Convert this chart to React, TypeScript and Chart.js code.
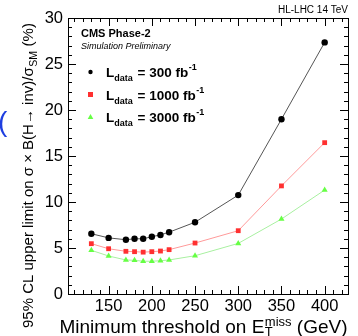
import React, { useEffect, useRef } from "react";
import { Chart, registerables } from "chart.js";

Chart.register(...registerables);

const thresholds = [130, 150, 170, 180, 190, 200, 210, 220, 250, 300, 350, 400];
const limit300 = [6.55, 6.1, 5.9, 6.0, 6.0, 6.23, 6.42, 6.72, 7.8, 10.75, 19.0, 27.35];
const limit1000 = [5.47, 4.92, 4.64, 4.6, 4.55, 4.6, 4.67, 4.82, 5.54, 6.88, 11.75, 16.45];
const limit3000 = [4.75, 4.13, 3.7, 3.66, 3.56, 3.56, 3.62, 3.7, 4.16, 5.5, 8.15, 11.3];
const xTickLabels = [150, 200, 250, 300, 350, 400];
const yTickLabels = [0, 5, 10, 15, 20, 25, 30];
const legendLumis = ["300", "1000", "3000"];

const FONT = "'Liberation Sans', Arial, Helvetica, sans-serif";

const toPts = (ys: number[]) => ys.map((y, i) => ({ x: thresholds[i], y }));

const decorPlugin = {
  id: "decor",
  afterDraw(chart: any) {
    const ctx: CanvasRenderingContext2D = chart.ctx;
    const { left, right, top, bottom } = chart.chartArea;
    const xs = chart.scales.x;
    const ys = chart.scales.y;
    ctx.save();
    // frame
    ctx.strokeStyle = "#000";
    ctx.lineWidth = 1;
    ctx.strokeRect(Math.round(left) + 0.5, Math.round(top) + 0.5, Math.round(right - left), Math.round(bottom - top));
    // ticks
    ctx.beginPath();
    for (let v = 110; v <= 420; v += 10) {
      const px = Math.round(xs.getPixelForValue(v)) + 0.5;
      const len = v % 50 === 0 ? 8 : 4;
      ctx.moveTo(px, bottom);
      ctx.lineTo(px, bottom - len);
      ctx.moveTo(px, top);
      ctx.lineTo(px, top + len);
    }
    for (let v = 1; v < 30; v += 1) {
      const py = Math.round(ys.getPixelForValue(v)) + 0.5;
      const len = v % 5 === 0 ? 8 : 4;
      ctx.moveTo(left, py);
      ctx.lineTo(left + len, py);
      ctx.moveTo(right, py);
      ctx.lineTo(right - len, py);
    }
    ctx.stroke();

    ctx.fillStyle = "#000";
    ctx.textBaseline = "alphabetic";
    // X title
    {
      const big = `19px ${FONT}`;
      const small = `13px ${FONT}`;
      const p1 = "Minimum threshold on E";
      const p3 = " (GeV)";
      ctx.font = big;
      const w1 = ctx.measureText(p1).width;
      const w3 = ctx.measureText(p3).width;
      ctx.font = small;
      const w2 = ctx.measureText("miss").width;
      const total = w1 + w2 + w3;
      const x0 = 347 - total;
      const base = 333;
      ctx.font = big;
      ctx.textAlign = "left";
      ctx.fillText(p1, x0, base);
      ctx.font = small;
      ctx.fillText("miss", x0 + w1 + 0.5, base - 7);
      ctx.fillText("T", x0 + w1 + 0.5, base + 3);
      ctx.font = big;
      ctx.fillText(p3, x0 + w1 + w2 + 0.5, base);
    }
    // Y title (rotated)
    {
      const big = `15px ${FONT}`;
      const small = `10.5px ${FONT}`;
      const p1 = "95% CL upper limit on σ × B(H→ inv)/σ";
      const p2 = "SM";
      const p3 = " (%)";
      ctx.save();
      ctx.translate(33, 328);
      ctx.rotate(-Math.PI / 2);
      ctx.textAlign = "left";
      ctx.font = big;
      const w1 = ctx.measureText(p1).width;
      ctx.fillText(p1, 0, 0);
      ctx.font = small;
      const w2 = ctx.measureText(p2).width;
      ctx.fillText(p2, w1 + 0.5, 4);
      ctx.font = big;
      ctx.fillText(p3, w1 + w2 + 1, 0);
      ctx.restore();
    }
    // top labels
    ctx.textAlign = "left";
    ctx.font = `bold 11px ${FONT}`;
    ctx.fillText("CMS Phase-2", 81, 37);
    ctx.font = `italic 9px ${FONT}`;
    ctx.fillText("Simulation Preliminary", 81, 49);
    ctx.textAlign = "right";
    ctx.font = `10px ${FONT}`;
    ctx.fillText("HL-LHC 14 TeV", 348, 13);

    // legend
    const rows = [72, 94.5, 117];
    const styles = [
      { shape: "circle", color: "#000" },
      { shape: "rect", color: "#ff3030" },
      { shape: "tri", color: "#66ff44" },
    ];
    rows.forEach((cy, i) => {
      const st = styles[i];
      ctx.fillStyle = st.color;
      ctx.beginPath();
      if (st.shape === "circle") ctx.arc(90.5, cy, 2.2, 0, Math.PI * 2);
      else if (st.shape === "rect") ctx.rect(88, cy - 2.5, 5, 5);
      else {
        ctx.moveTo(90.5, cy - 3);
        ctx.lineTo(93.3, cy + 2);
        ctx.lineTo(87.7, cy + 2);
        ctx.closePath();
      }
      ctx.fill();
      ctx.fillStyle = "#000";
      ctx.textAlign = "left";
      const base = cy + 5;
      let x = 106;
      ctx.font = `bold 13.5px ${FONT}`;
      ctx.fillText("L", x, base);
      x += ctx.measureText("L").width;
      ctx.font = `bold 9px ${FONT}`;
      ctx.fillText("data", x, base + 4);
      x += ctx.measureText("data").width + 1;
      ctx.font = `bold 13.5px ${FONT}`;
      const t = ` = ${legendLumis[i]} fb`;
      ctx.fillText(t, x, base);
      x += ctx.measureText(t).width;
      ctx.font = `bold 9px ${FONT}`;
      ctx.fillText("-1", x + 0.5, base - 7);
    });

    // blue artifact at left edge
    ctx.fillStyle = "#1f3fe0";
    ctx.font = `28px ${FONT}`;
    ctx.textAlign = "left";
    ctx.fillText("(", -2, 131);
    ctx.restore();
  },
};

export default function App() {
  const ref = useRef<HTMLCanvasElement | null>(null);
  useEffect(() => {
    document.body.style.margin = "0";
    const canvas = ref.current;
    if (!canvas) return;
    const chart = new Chart(canvas, {
      type: "line",
      data: {
        datasets: [
          {
            label: "300",
            data: toPts(limit300),
            borderColor: "#555555",
            borderWidth: 1,
            pointStyle: "circle",
            pointRadius: 3.2,
            pointBackgroundColor: "#000",
            pointBorderColor: "#000",
            pointBorderWidth: 0,
          },
          {
            label: "1000",
            data: toPts(limit1000),
            borderColor: "#ff9a9a",
            borderWidth: 1,
            pointStyle: "rect",
            pointRadius: 3.4,
            pointBackgroundColor: "#ff3030",
            pointBorderColor: "#ff3030",
            pointBorderWidth: 0,
          },
          {
            label: "3000",
            data: toPts(limit3000),
            borderColor: "#a8f0a0",
            borderWidth: 1,
            pointStyle: "triangle",
            pointRadius: 3.5,
            pointBackgroundColor: "#66ff44",
            pointBorderColor: "#66ff44",
            pointBorderWidth: 0,
          },
        ],
      },
      options: {
        responsive: false,
        animation: false,
        events: [],
        layout: { padding: { left: 0, right: 10, top: 18, bottom: 0 } },
        plugins: { legend: { display: false }, tooltip: { enabled: false }, title: { display: false } },
        scales: {
          x: {
            type: "linear",
            min: 103,
            max: 427,
            grid: { display: false, drawTicks: false },
            border: { display: false },
            afterFit: (s: any) => {
              s.height = 42;
            },
            afterBuildTicks: (s: any) => {
              s.ticks = xTickLabels.map((v) => ({ value: v }));
            },
            ticks: {
              color: "#000",
              font: { family: FONT, size: 16.5 },
              padding: 3,
              maxRotation: 0,
              autoSkip: false,
            },
          },
          y: {
            type: "linear",
            min: 0,
            max: 30,
            grid: { display: false, drawTicks: false },
            border: { display: false },
            afterFit: (s: any) => {
              s.width = 68;
            },
            afterBuildTicks: (s: any) => {
              s.ticks = yTickLabels.map((v) => ({ value: v }));
            },
            ticks: {
              color: "#000",
              font: { family: FONT, size: 16.5 },
              padding: 5,
              autoSkip: false,
            },
          },
        },
      },
      plugins: [decorPlugin],
    });
    return () => chart.destroy();
  }, []);
  return (
    <div style={{ width: 358, height: 336 }}>
      <canvas ref={ref} width={358} height={336} style={{ display: "block" }} />
    </div>
  );
}
